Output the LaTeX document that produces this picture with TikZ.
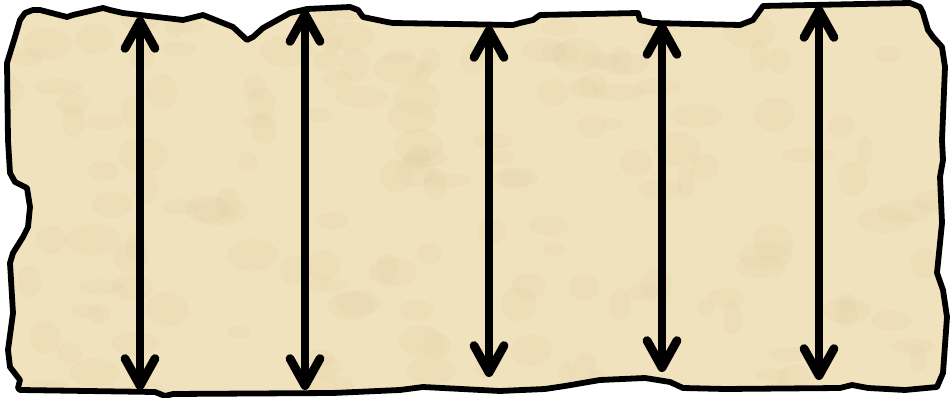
\documentclass[tikz,border=0pt]{standalone}
\usepackage{xcolor}
\usepackage{tikz}
\usetikzlibrary{arrows.meta, positioning}
\definecolor{parchemin}{HTML}{F0E2BC}
\definecolor{tache}{HTML}{D6C096}
\definecolor{contour}{HTML}{000000}
\tikzset{
  feuille/.style={draw=contour, line width=3.3pt,
    line join=round, line cap=round},
  grain/.style={fill=tache, opacity=0.09},
  fleche/.style={{Straight Barb[length=5.4mm, width=6mm, round]}-{Straight Barb[length=5.4mm, width=6mm, round]},
    line width=5pt, color=contour, line cap=round}
}

\begin{document}
\begin{tikzpicture}[x=0.02cm, y=-0.02cm]
    \useasboundingbox (0,0) rectangle (950,398);

    % feuille dechiree
    \path[save path=\bord] (7,63) -- (15,37) -- (20,20) -- (25,13) -- (33,10) -- (40,10)
      -- (67,17) -- (73,15) -- (103,8) -- (110,10) -- (123,13) -- (140,15)
      -- (183,20) -- (203,15) -- (233,27) -- (247,40) -- (253,37) -- (263,28)
      -- (290,13) -- (307,9) -- (350,7) -- (358,10) -- (363,17) -- (387,22)
      -- (393,23) -- (513,25) -- (520,23) -- (533,20) -- (540,15) -- (638,13)
      -- (640,20) -- (653,23) -- (740,25) -- (753,20) -- (758,13) -- (763,6)
      -- (910,3) -- (920,7) -- (923,13) -- (928,30) -- (933,37) -- (942,47)
      -- (945,67) -- (942,140) -- (943,160) -- (940,177) -- (942,223)
      -- (937,273) -- (943,290) -- (947,317) -- (943,373) -- (937,387)
      -- (905,390) -- (868,388) -- (852,385) -- (840,388) -- (725,389)
      -- (683,388) -- (670,382) -- (645,378) -- (600,380) -- (565,386)
      -- (545,389) -- (500,391) -- (423,387) -- (400,390) -- (333,393)
      -- (173,394) -- (165,396) -- (155,392) -- (20,390) -- (18,388)
      -- (20,380) -- (10,367) -- (8,350) -- (13,313) -- (10,263) -- (13,253)
      -- (23,237) -- (28,227) -- (30,207) -- (27,188) -- (15,182) -- (10,173)
      -- (8,140) -- cycle;
    \fill[parchemin, use path=\bord];
    \begin{scope}
      \clip[use path=\bord];
      \pgfmathsetseed{7}
      \foreach \k in {1,...,160}
        \fill[grain] (950*rnd,398*rnd) ellipse ({8+20*rnd} and {6+12*rnd});
    \end{scope}
    \draw[feuille, use path=\bord];

    % extremites des fleches
    \coordinate (h1) at (140,17);
    \coordinate (b1) at (140,390);
    \coordinate (h2) at (305,10);
    \coordinate (b2) at (305,390);
    \coordinate (h3) at (489,26);
    \coordinate (b3) at (489,377);
    \coordinate (h4) at (662,23);
    \coordinate (b4) at (662,372);
    \coordinate (h5) at (819,6);
    \coordinate (b5) at (819,380);

    \foreach \i in {1,...,5}
      \draw[fleche] (h\i) -- (b\i);
  \end{tikzpicture}
\end{document}
